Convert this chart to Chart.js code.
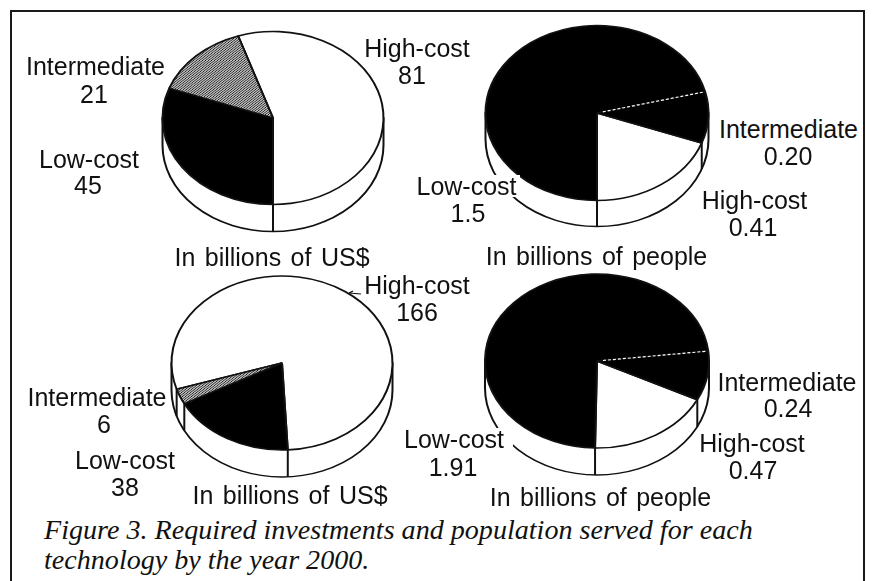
<!DOCTYPE html>
<html>
<head>
<meta charset="utf-8">
<script src="https://cdn.jsdelivr.net/npm/chart.js@4"></script>
<style>
  html, body { margin: 0; padding: 0; background: #fff; }
  #page { position: relative; width: 872px; height: 581px; overflow: hidden; background: #fff; }
  #frame { position: absolute; left: 10px; top: 10px; width: 851px; height: 575px;
           border: 2px solid #1a1a1a; box-sizing: content-box; }
  canvas { position: absolute; }
  .lbl { position: absolute; transform: translate(-50%, -50%); white-space: nowrap; color: #111;
         font-family: "Liberation Sans", Arial, sans-serif; font-size: 25px; line-height: 22px; }
  .note { word-spacing: 2.5px; }
  .cap { position: absolute; left: 44px; white-space: nowrap; color: #111; transform: translateY(-50%);
         font-family: "Liberation Serif", "Times New Roman", serif; font-style: italic;
         font-size: 28.1px; line-height: 30px; }
  svg { position: absolute; left: 0; top: 0; }
</style>
</head>
<body>
<div id="page">
  <div id="frame"></div>
</div>
<script>
// Slice order is the same in every pie, running clockwise from the high-cost wedge.
const categories = ['High-cost', 'Low-cost', 'Intermediate'];
const upperInvestment = [81, 45, 21];
const upperPopulation = [0.41, 1.5, 0.20];
const lowerInvestment = [166, 38, 6];
const lowerPopulation = [0.47, 1.91, 0.24];
const investmentNote = 'In billions of US$';
const populationNote = 'In billions of people';
const captionLines = [
  'Figure 3. Required investments and population served for each',
  'technology by the year 2000.'
];

const page = document.getElementById('page');
const CANVAS = 240;

function hatchPattern() {
  const c = document.createElement('canvas');
  c.width = c.height = 3;
  const g = c.getContext('2d');
  g.fillStyle = '#fff';
  g.fillRect(0, 0, 3, 3);
  g.strokeStyle = '#111';
  g.lineWidth = 1.1;
  g.beginPath();
  g.moveTo(-1, 1); g.lineTo(1, -1);
  g.moveTo(0, 3); g.lineTo(3, 0);
  g.moveTo(2, 4); g.lineTo(4, 2);
  g.stroke();
  return g.createPattern(c, 'repeat');
}

// Flattens the pie into an ellipse and draws the rim below it; a dotted seam
// marks the intermediate wedge where it is filled solid.
const tiltedPie = {
  id: 'tiltedPie',
  beforeDatasetsDraw(chart, args, opts) {
    const ctx = chart.ctx;
    const arcs = chart.getDatasetMeta(0).data;
    const { x, y, outerRadius: r } = arcs[0];
    const k = opts.squash;
    const drop = opts.depth / k;
    ctx.save();
    ctx.translate(x, y);
    ctx.scale(1, k);
    ctx.translate(-x, -y);
    ctx.save();
    ctx.lineWidth = 2;
    ctx.strokeStyle = '#111';
    ctx.fillStyle = '#fff';
    ctx.beginPath();
    ctx.moveTo(x + r, y);
    ctx.lineTo(x + r, y + drop);
    ctx.arc(x, y + drop, r, 0, Math.PI);
    ctx.lineTo(x - r, y);
    ctx.closePath();
    ctx.fill();
    ctx.stroke();
    arcs.forEach(a => {
      if (Math.sin(a.startAngle) > 0) {
        const px = x + r * Math.cos(a.startAngle);
        const py = y + r * Math.sin(a.startAngle);
        ctx.beginPath();
        ctx.moveTo(px, py);
        ctx.lineTo(px, py + drop);
        ctx.stroke();
      }
    });
    ctx.restore();
  },
  afterDatasetsDraw(chart, args, opts) {
    const ctx = chart.ctx;
    if (opts.seam) {
      const a = chart.getDatasetMeta(0).data[2];
      const c = Math.cos(a.startAngle), s = Math.sin(a.startAngle);
      ctx.save();
      ctx.strokeStyle = '#fff';
      ctx.lineWidth = 1.5;
      ctx.setLineDash([3, 2]);
      ctx.beginPath();
      ctx.moveTo(a.x + c * 6, a.y + s * 6);
      ctx.lineTo(a.x + c * (a.outerRadius - 2), a.y + s * (a.outerRadius - 2));
      ctx.stroke();
      ctx.restore();
    }
    ctx.restore();
  }
};

function addPie(values, p) {
  const canvas = document.createElement('canvas');
  canvas.width = canvas.height = CANVAS;
  canvas.style.left = (p.cx - CANVAS / 2) + 'px';
  canvas.style.top = (p.cy - CANVAS / 2) + 'px';
  page.appendChild(canvas);
  const total = values.reduce((a, b) => a + b, 0);
  new Chart(canvas, {
    type: 'pie',
    data: {
      labels: categories,
      datasets: [{
        data: values,
        backgroundColor: ['#fff', '#000', p.seam ? '#000' : hatchPattern()],
        borderColor: '#111',
        borderWidth: 2
      }]
    },
    options: {
      responsive: false,
      animation: false,
      devicePixelRatio: 1,
      rotation: p.bottom - 360 * values[0] / total,
      layout: { padding: CANVAS / 2 - 1 - p.rx },
      events: [],
      plugins: {
        legend: { display: false },
        tooltip: { enabled: false },
        tiltedPie: { squash: p.ry / p.rx, depth: p.depth, seam: p.seam }
      }
    },
    plugins: [tiltedPie]
  });
}

function addLabel(text, x, y, cover, cls) {
  const d = document.createElement('div');
  d.className = 'lbl' + (cls ? ' ' + cls : '');
  d.textContent = text;
  d.style.left = x + 'px';
  d.style.top = y + 'px';
  if (cover) { d.style.background = '#fff'; d.style.padding = '0 ' + cover + 'px'; }
  page.appendChild(d);
}

// Whole dollars stay as they are; people counts keep two decimals below one billion.
const fmt = v => (Number.isInteger(v) || v >= 1) ? String(v) : v.toFixed(2);

addPie(upperInvestment, { cx: 272.5, cy: 117.5, rx: 110.5, ry: 86.5, depth: 27, bottom: 180 });
addPie(upperPopulation, { cx: 596.5, cy: 112.5, rx: 111.5, ry: 87.5, depth: 26, bottom: 180, seam: true });
addPie(lowerInvestment, { cx: 282, cy: 363, rx: 110.5, ry: 87, depth: 27, bottom: 177 });
addPie(lowerPopulation, { cx: 597, cy: 361, rx: 112, ry: 87, depth: 27, bottom: 181, seam: true });

addLabel(categories[2], 95.5, 66);  addLabel(fmt(upperInvestment[2]), 94, 94);
addLabel(categories[1], 89, 159);   addLabel(fmt(upperInvestment[1]), 88, 185);
addLabel(categories[0], 417, 48);   addLabel(fmt(upperInvestment[0]), 412, 75);
addLabel(investmentNote, 272, 257, 0, 'note');

addLabel(categories[1], 466.5, 186, 3); addLabel(fmt(upperPopulation[1]), 468, 213);
addLabel(categories[0], 754.5, 200);    addLabel(fmt(upperPopulation[0]), 753, 227);
addLabel(categories[2], 788.5, 129);    addLabel(fmt(upperPopulation[2]), 788, 156);
addLabel(populationNote, 596.5, 256, 0, 'note');

addLabel(categories[0], 417, 285);  addLabel(fmt(lowerInvestment[0]), 417, 312);
addLabel(categories[2], 97, 397);   addLabel(fmt(lowerInvestment[2]), 104, 424);
addLabel(categories[1], 125, 460);  addLabel(fmt(lowerInvestment[1]), 125, 487);
addLabel(investmentNote, 290, 495, 0, 'note');

addLabel(categories[1], 454, 439, 9);   addLabel(fmt(lowerPopulation[1]), 453, 467);
addLabel(categories[0], 752, 443);      addLabel(fmt(lowerPopulation[0]), 753, 470);
addLabel(categories[2], 787, 382);      addLabel(fmt(lowerPopulation[2]), 788, 408);
addLabel(populationNote, 600.5, 497, 0, 'note');

captionLines.forEach((line, i) => {
  const d = document.createElement('div');
  d.className = 'cap';
  d.textContent = line;
  d.style.top = (530 + i * 30) + 'px';
  page.appendChild(d);
});

// Short leader from the high-cost label to its wedge.
const ns = 'http://www.w3.org/2000/svg';
const leader = document.createElementNS(ns, 'svg');
leader.setAttribute('width', 872);
leader.setAttribute('height', 581);
const path = document.createElementNS(ns, 'path');
path.setAttribute('d', 'M349 293 L361 294 M349 293 L353 291');
path.setAttribute('stroke', '#111');
path.setAttribute('stroke-width', '1.2');
path.setAttribute('fill', 'none');
leader.appendChild(path);
page.appendChild(leader);
</script>
</body>
</html>
